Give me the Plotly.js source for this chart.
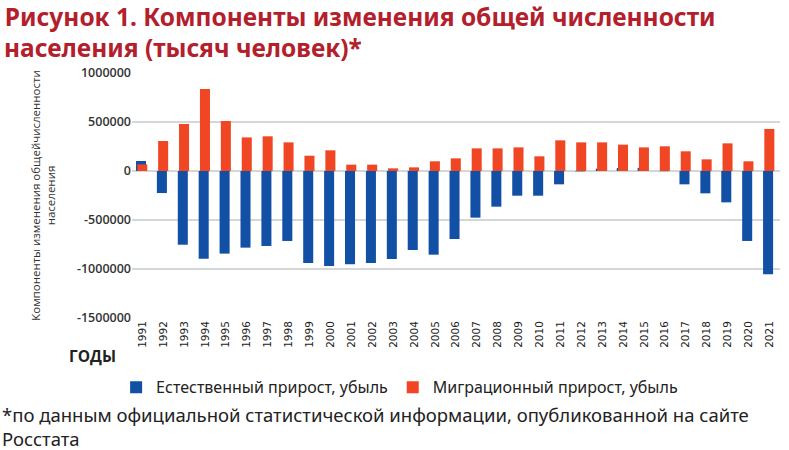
<!DOCTYPE html>
<html>
<head>
<meta charset="utf-8">
<script src="https://cdn.plot.ly/plotly-3.0.1.min.js"></script>
<style>html,body{margin:0;padding:0;background:#fff;}#chart{width:789px;height:450px;}</style>
</head>
<body>
<div id="chart"></div>
<script>
const years = ["1991","1992","1993","1994","1995","1996","1997","1998","1999","2000","2001","2002","2003","2004","2005","2006","2007","2008","2009","2010","2011","2012","2013","2014","2015","2016","2017","2018","2019","2020","2021"];
const naturalGrowth = [102000,-225000,-752000,-895000,-843000,-782000,-765000,-714000,-939000,-969000,-952000,-939000,-898000,-806000,-854000,-694000,-476000,-364000,-252000,-252000,-136000,-4000,24000,30000,32000,-2000,-136000,-228000,-320000,-714000,-1054000];
const migrationGrowth = [68000,306000,480000,837000,510000,343000,354000,292000,156000,211000,65000,65000,27000,37000,99000,129000,231000,231000,241000,150000,313000,292000,292000,269000,241000,252000,201000,119000,282000,99000,429000];
const seriesNames = ["Естественный прирост, убыль","Миграционный прирост, убыль"];
const yTicks = [1000000,500000,0,-500000,-1000000,-1500000];
const titleLine1 = "Рисунок 1. Компоненты изменения общей численности";
const titleLine2 = "населения (тысяч человек)*";

const blue = "#1250a6", red = "#f04623", titleRed = "#b3202c";
const data = [
  {type:"bar", x:years, y:naturalGrowth, name:seriesNames[0], marker:{color:blue}, width:0.48, offset:-0.31},
  {type:"bar", x:years, y:migrationGrowth, name:seriesNames[1], marker:{color:red}, width:0.48, offset:-0.25}
];
const layout = {
  width:789, height:450,
  margin:{l:132, r:9, t:73, b:132},
  paper_bgcolor:"#fff", plot_bgcolor:"#fff",
  barmode:"overlay",
  font:{family:"Noto Sans, Open Sans, sans-serif", color:"#222"},
  title:{text:titleLine1,
    x:0.006, xref:"container", xanchor:"left", y:0.962, yref:"container", yanchor:"middle",
    font:{family:"Noto Sans, sans-serif", size:24.5, color:titleRed, weight:700}},
  xaxis:{type:"category", tickangle:-90, tickfont:{family:"DejaVu Sans, sans-serif", size:10.5, color:"#222"},
    showgrid:false, zeroline:false, showline:false, ticks:"", ticklen:0},
  yaxis:{range:[-1500000,1000000], tickvals:yTicks, ticktext:yTicks.map(String),
    tickfont:{family:"Open Sans, sans-serif", size:12.5, color:"#333", weight:600},
    showgrid:true, gridcolor:"#d3d7d7", gridwidth:1.5, zeroline:true, zerolinecolor:"#d3d7d7", zerolinewidth:1.5,
    ticks:"", automargin:false,
    title:{text:"Компоненты изменения общейчисленности<br>населения", standoff:18,
      font:{family:"Open Sans, sans-serif", size:11.5, color:"#333"}}},
  showlegend:true,
  legend:{orientation:"h", x:0.413, xanchor:"center", y:-0.283, yanchor:"middle",
    font:{family:"Noto Sans, sans-serif", size:16, color:"#222"}, itemwidth:30, traceorder:"normal"},
  annotations:[
    {text:titleLine2, xref:"paper", yref:"paper", x:-0.201, y:1.103, xanchor:"left", yanchor:"middle",
      showarrow:false, font:{family:"Noto Sans, sans-serif", size:24.5, color:titleRed, weight:700}},
    {text:"<b>ГОДЫ</b>", xref:"paper", yref:"paper", x:-0.061, y:-0.155, xanchor:"center", yanchor:"middle",
      showarrow:false, font:{family:"Open Sans, sans-serif", size:15.5, color:"#222"}},
    {text:"*по данным официальной статистической информации, опубликованной на сайте<br>Росстата",
      xref:"paper", yref:"paper", x:-0.203, y:-0.336, xanchor:"left", yanchor:"top", align:"left",
      showarrow:false, font:{family:"Noto Sans, sans-serif", size:18.5, color:"#222"}}
  ]
};
Plotly.newPlot("chart", data, layout, {displayModeBar:false, staticPlot:true});
</script>
</body>
</html>
